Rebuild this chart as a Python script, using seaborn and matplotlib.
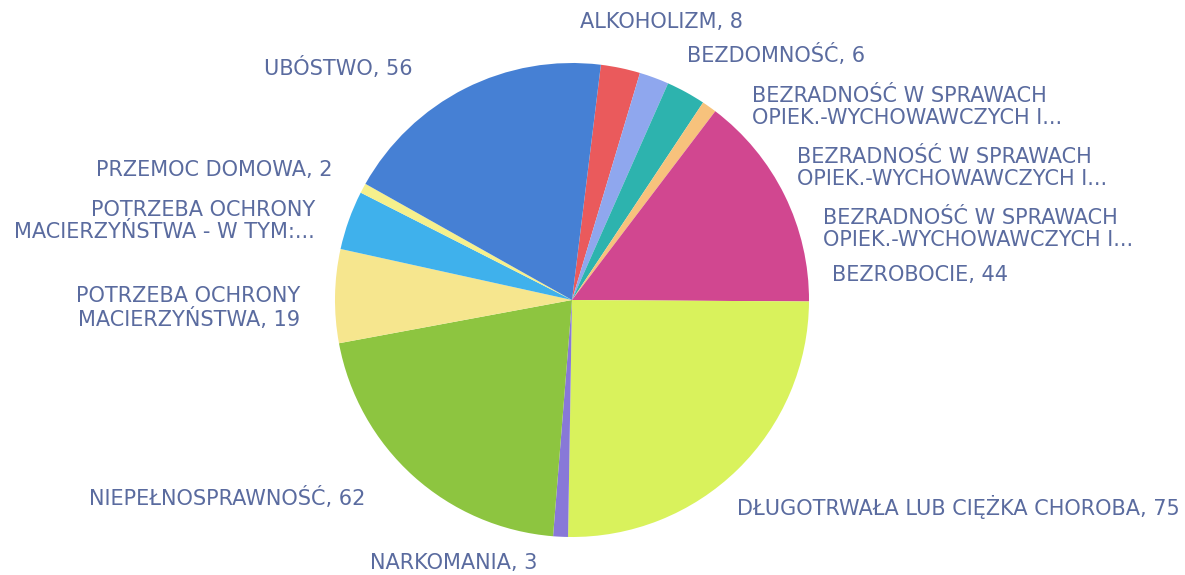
import matplotlib
matplotlib.use("Agg")
import matplotlib.pyplot as plt
import seaborn as sns

categories = [
    "ALKOHOLIZM",
    "BEZDOMNOŚĆ",
    "BEZRADNOŚĆ W SPRAWACH\nOPIEK.-WYCHOWAWCZYCH I...",
    "BEZRADNOŚĆ W SPRAWACH\nOPIEK.-WYCHOWAWCZYCH I...",
    "BEZRADNOŚĆ W SPRAWACH\nOPIEK.-WYCHOWAWCZYCH I...",
    "BEZROBOCIE",
    "DŁUGOTRWAŁA LUB CIĘŻKA CHOROBA",
    "NARKOMANIA",
    "NIEPEŁNOSPRAWNOŚĆ",
    "POTRZEBA OCHRONY\nMACIERZYŃSTWA",
    "POTRZEBA OCHRONY\nMACIERZYŃSTWA - W TYM:...",
    "PRZEMOC DOMOWA",
    "UBÓSTWO",
]
values = [8, 6, 8, 3, 0, 44, 75, 3, 62, 19, 12, 2, 56]
# labels that were truncated in the original show no value
show_value = [True, True, False, False, False, True, True, True, True, True, False, True, True]

colors = ["#ea5a5c", "#8fa7ee", "#2db3ae", "#f7c27c", "#f2a0c0", "#d14790",
          "#d9f25c", "#8878d8", "#8dc540", "#f6e68e", "#3fb1ec", "#f6f08c",
          "#4680d4"]

# label anchor positions in figure pixels (from top-left) and alignment
label_px = [(580, 22, "left"), (687, 55, "left"), (752, 107, "left"),
            (797, 168, "left"), (823, 229, "left"), (832, 275, "left"),
            (737, 507, "left"), (370, 563, "left"), (365, 498, "right"),
            (300, 308, "right"), (315, 221, "right"), (333, 170, "right"),
            (413, 68, "right")]

sns.set_theme(style="white")
plt.rcParams["font.family"] = ["DejaVu Sans"]

W, H = 1185, 575
cx, cy, r = 572, 300, 237
fig = plt.figure(figsize=(W / 100, H / 100), dpi=100)
ax = fig.add_axes([(cx - r) / W, (H - cy - r) / H, 2 * r / W, 2 * r / H])

ax.pie(values, colors=colors, startangle=83, counterclock=False, radius=1,
       wedgeprops=dict(linewidth=0))
ax.set_xlim(-1, 1)
ax.set_ylim(-1, 1)
ax.set_aspect("equal")
ax.axis("off")

for cat, val, show, (px, py, ha) in zip(categories, values, show_value, label_px):
    text = f"{cat}, {val}" if show else cat
    ax.text((px - cx) / r, (cy - py) / r, text, ha=ha, va="center",
            multialignment=ha, fontsize=15, color="#5a6b9f",
            linespacing=1.08, clip_on=False)

fig.savefig("out.png", dpi=100, facecolor="white")
